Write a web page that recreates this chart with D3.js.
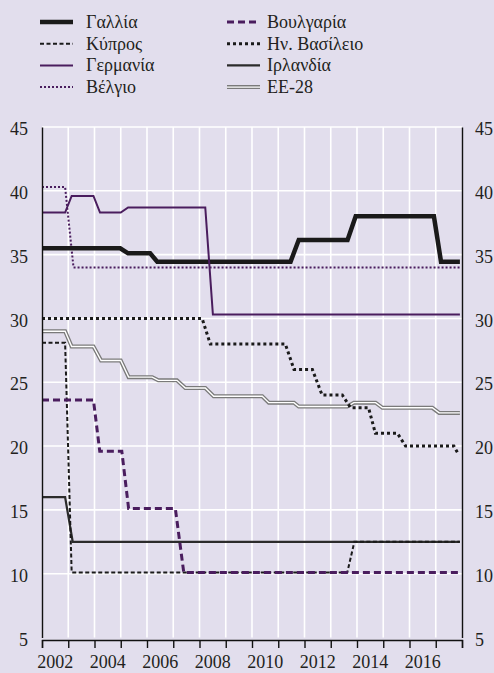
<!DOCTYPE html>
<html>
<head>
<meta charset="utf-8">
<script src="https://cdn.jsdelivr.net/npm/d3@7"></script>
<style>
  body { margin: 0; background: #e2deed; }
  svg text { font-family: "Liberation Serif", "Times New Roman", "DejaVu Serif", Times, serif !important; fill: #231f20; }
</style>
</head>
<body>
<div id="chart"></div>
<script>
const WIDTH = 494, HEIGHT = 673;

// tick labels
const yTicks = [5, 10, 15, 20, 25, 30, 35, 40, 45];
const xLabelYears = [2002, 2004, 2006, 2008, 2010, 2012, 2014, 2016];

// series, [year, rate %] breakpoints
const gallia = [[2002, 35.5], [2004.98, 35.5], [2005.28, 35.1], [2006.12, 35.1], [2006.39, 34.45],
  [2011.47, 34.45], [2011.78, 36.15], [2013.64, 36.15], [2013.95, 38.0], [2016.93, 38.0],
  [2017.2, 34.45], [2017.92, 34.45]];
const kypros = [[2002, 28.1], [2002.88, 28.1], [2003.13, 10.1], [2013.63, 10.1], [2013.9, 12.5], [2017.92, 12.5]];
const germania = [[2002, 38.3], [2002.88, 38.3], [2003.13, 39.6], [2003.96, 39.6], [2004.21, 38.3],
  [2005.0, 38.3], [2005.28, 38.7], [2008.22, 38.7], [2008.51, 30.3], [2017.92, 30.3]];
const velgio = [[2002, 40.3], [2002.88, 40.3], [2003.2, 34.0], [2017.92, 34.0]];
const voulgaria = [[2002, 23.6], [2003.96, 23.6], [2004.2, 19.6], [2005.04, 19.6], [2005.3, 15.1],
  [2007.08, 15.1], [2007.4, 10.1], [2017.92, 10.1]];
const hvVasileio = [[2002, 30.0], [2008.1, 30.0], [2008.41, 28.0], [2011.27, 28.0], [2011.6, 26.0],
  [2012.3, 26.0], [2012.67, 24.0], [2013.44, 24.0], [2013.76, 23.0], [2014.44, 23.0], [2014.7, 21.0],
  [2015.54, 21.0], [2015.85, 20.0], [2017.69, 20.0], [2017.88, 19.3]];
const irlandia = [[2002, 16.0], [2002.88, 16.0], [2003.17, 12.5], [2017.92, 12.5]];
const ee28 = [[2002, 29.0], [2002.88, 29.0], [2003.13, 27.8], [2003.96, 27.8], [2004.25, 26.7],
  [2005.0, 26.7], [2005.3, 25.4], [2006.2, 25.4], [2006.43, 25.15], [2007.14, 25.15], [2007.46, 24.55],
  [2008.22, 24.55], [2008.54, 23.9], [2010.39, 23.9], [2010.64, 23.4], [2011.6, 23.4], [2011.78, 23.1],
  [2013.63, 23.1], [2013.88, 23.4], [2014.71, 23.4], [2014.97, 23.0], [2016.87, 23.0], [2017.13, 22.6],
  [2017.92, 22.6]];

const PURPLE = "#4a1d5e";
const FONT = "'Liberation Serif', 'Times New Roman', 'DejaVu Serif', Times, serif";

// line styles (double = grey line with white core)
let series = [
  {name: "ΕΕ-28", data: ee28, color: "#7a7a7a", width: 4, dash: null, double: true},
  {name: "Ιρλανδία", data: irlandia, color: "#2b2b2b", width: 2.2, dash: null},
  {name: "Κύπρος", data: kypros, color: "#1a1a1a", width: 2, dash: "4,2.5"},
  {name: "Ην. Βασίλειο", data: hvVasileio, color: "#1a1a1a", width: 3, dash: "3,3"},
  {name: "Βουλγαρία", data: voulgaria, color: PURPLE, width: 3, dash: "7,4"},
  {name: "Βέλγιο", data: velgio, color: PURPLE, width: 2, dash: "2,2"},
  {name: "Γαλλία", data: gallia, color: "#1a1a1a", width: 4.5, dash: null},
  {name: "Γερμανία", data: germania, color: PURPLE, width: 2, dash: null}
];

// legend order: two columns, four rows
let legendLeft = ["Γαλλία", "Κύπρος", "Γερμανία", "Βέλγιο"];
let legendRight = ["Βουλγαρία", "Ην. Βασίλειο", "Ιρλανδία", "ΕΕ-28"];

let svg = d3.select("#chart")
  .append("svg")
  .attr("width", WIDTH)
  .attr("height", HEIGHT)
  .attr("font-family", FONT);

let x = d3.scaleLinear().domain([2002, 2018]).range([42, 462]);
let y = d3.scaleLinear().domain([5, 45]).range([637.5, 127]);

// white grid
let grid = svg.append("g").attr("stroke", "#ffffff").attr("stroke-width", 1.6);
grid.selectAll("line.h").data(yTicks.filter(d => d > 5)).enter()
  .append("line").attr("class", "h")
  .attr("x1", x(2002)).attr("x2", x(2018))
  .attr("y1", d => y(d)).attr("y2", d => y(d));
grid.selectAll("line.v").data(d3.range(2003, 2018)).enter()
  .append("line").attr("class", "v")
  .attr("x1", d => x(d)).attr("x2", d => x(d))
  .attr("y1", y(45)).attr("y2", y(5));

// lines
let line = d3.line().x(d => x(d[0])).y(d => y(d[1]));

let lines = svg.append("g").attr("fill", "none");
series.forEach(function(s) {
  let p = lines.append("path")
    .attr("d", line(s.data))
    .attr("stroke", s.color)
    .attr("stroke-width", s.width)
    .attr("stroke-linejoin", "miter");
  if (s.dash) p.attr("stroke-dasharray", s.dash);
  if (s.double) {
    lines.append("path")
      .attr("d", line(s.data))
      .attr("stroke", "#ffffff")
      .attr("stroke-width", 1.4);
  }
});

// axes
let yLeft = svg.append("g")
  .attr("transform", "translate(" + x(2002) + ",0)")
  .call(d3.axisLeft(y).tickValues(yTicks).tickSize(0).tickSizeOuter(0).tickPadding(14));
let yRight = svg.append("g")
  .attr("transform", "translate(" + x(2018) + ",0)")
  .call(d3.axisRight(y).tickValues(yTicks).tickSize(0).tickSizeOuter(0).tickPadding(13));
let xAxis = svg.append("g")
  .attr("transform", "translate(0," + (y(5) + 2.5) + ")")
  .call(d3.axisBottom(x).tickValues(d3.range(2002, 2019)).tickSize(8).tickSizeOuter(8).tickFormat(""));

[yLeft, yRight, xAxis].forEach(function(a) {
  a.attr("font-family", FONT);
  a.select(".domain").attr("stroke", "#111").attr("stroke-width", 1.4);
  a.selectAll(".tick line").attr("stroke", "#111").attr("stroke-width", 1.4);
  a.selectAll("text")
    .style("font-size", "18px")
    .attr("fill", "#231f20")
    .attr("dy", "0.42em");
});

svg.append("g").selectAll("text").data(xLabelYears).enter()
  .append("text")
  .attr("x", d => x(d + 0.5))
  .attr("y", 668)
  .attr("text-anchor", "middle")
  .style("font-size", "18px")
  .text(d => d);

// legend
let legend = svg.append("g");
function drawLegend(names, x0, textX) {
  names.forEach(function(n, i) {
    let s = series.find(d => d.name === n);
    let cy = 22 + i * 21.7;
    let l = legend.append("line")
      .attr("x1", x0).attr("x2", x0 + 33)
      .attr("y1", cy).attr("y2", cy)
      .attr("stroke", s.color)
      .attr("stroke-width", s.width);
    if (s.dash) l.attr("stroke-dasharray", s.dash);
    if (s.double) {
      legend.append("line")
        .attr("x1", x0).attr("x2", x0 + 33)
        .attr("y1", cy).attr("y2", cy)
        .attr("stroke", "#ffffff").attr("stroke-width", 1.4);
    }
    legend.append("text")
      .attr("x", textX).attr("y", cy + 6)
      .style("font-size", "18px")
      .text(n);
  });
}
drawLegend(legendLeft, 40, 86);
drawLegend(legendRight, 227, 267);
</script>
</body>
</html>
